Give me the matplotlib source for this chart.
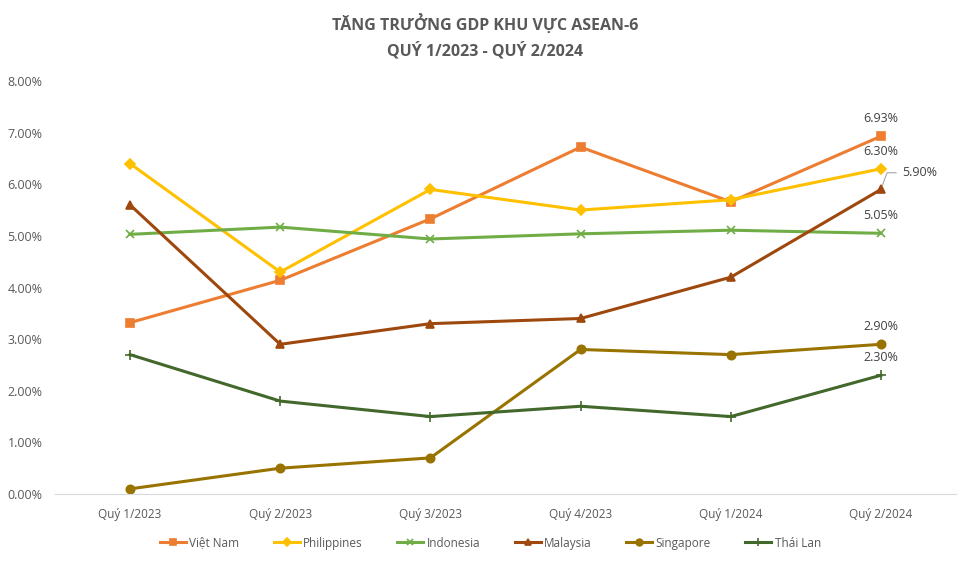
import matplotlib.pyplot as plt
from matplotlib.ticker import PercentFormatter

quarters = ['Quý 1/2023', 'Quý 2/2023', 'Quý 3/2023', 'Quý 4/2023', 'Quý 1/2024', 'Quý 2/2024']

vietnam = [3.32, 4.14, 5.33, 6.72, 5.66, 6.93]
philippines = [6.40, 4.30, 5.90, 5.50, 5.70, 6.30]
indonesia = [5.03, 5.17, 4.94, 5.04, 5.11, 5.05]
malaysia = [5.60, 2.90, 3.30, 3.40, 4.20, 5.90]
singapore = [0.10, 0.50, 0.70, 2.80, 2.70, 2.90]
thailand = [2.70, 1.80, 1.50, 1.70, 1.50, 2.30]

plt.rcParams['font.family'] = ['Open Sans', 'DejaVu Sans']
grey = '#595959'

fig = plt.figure(figsize=(9.71, 5.61), dpi=100)
ax = fig.add_axes([0.0566, 0.1194, 0.928, 0.7362])

x = range(len(quarters))
series = [
    ('Việt Nam', vietnam, '#ED7D31', 's', 6),
    ('Philippines', philippines, '#FFC000', 'D', 5),
    ('Indonesia', indonesia, '#70AD47', 'x', 6),
    ('Malaysia', malaysia, '#9E480E', '^', 6),
    ('Singapore', singapore, '#997300', 'o', 6),
    ('Thái Lan', thailand, '#43682B', '+', 7),
]
for name, vals, col, mk, ms in series:
    ax.plot(x, vals, color=col, lw=2.2, marker=mk, ms=ms, mew=1.2, label=name)

ax.set_xlim(-0.5, len(quarters) - 0.5)
ax.set_ylim(0, 8)
ax.set_yticks(range(0, 9))
ax.yaxis.set_major_formatter(PercentFormatter(decimals=2))
ax.set_xticks(list(x))
ax.set_xticklabels(quarters)
ax.tick_params(length=0, labelsize=8.5, colors=grey)
ax.tick_params(axis='x', pad=10)
ax.tick_params(axis='y', labelsize=9, pad=9)
for s in ['top', 'right', 'left']:
    ax.spines[s].set_visible(False)
ax.spines['bottom'].set_color('#D9D9D9')

last = len(quarters) - 1
lbl = dict(fontsize=9, color='#404040', ha='center', va='bottom')
ax.annotate(f'{vietnam[-1]:.2f}%', (last, vietnam[-1]), xytext=(0, 8), textcoords='offset points', **lbl)
ax.annotate(f'{philippines[-1]:.2f}%', (last, philippines[-1]), xytext=(0, 8), textcoords='offset points', **lbl)
ax.annotate(f'{indonesia[-1]:.2f}%', (last, indonesia[-1]), xytext=(0, 8), textcoords='offset points', **lbl)
ax.annotate(f'{singapore[-1]:.2f}%', (last, singapore[-1]), xytext=(0, 8), textcoords='offset points', **lbl)
ax.annotate(f'{thailand[-1]:.2f}%', (last, thailand[-1]), xytext=(0, 8), textcoords='offset points', **lbl)
ax.annotate(f'{malaysia[-1]:.2f}%', (last, malaysia[-1]), xytext=(15, 12), textcoords='offset points',
            fontsize=9, color='#404040', ha='left', va='center',
            arrowprops=dict(arrowstyle='-', color='#A6A6A6', lw=0.8,
                            connectionstyle='angle,angleA=0,angleB=70,rad=0', shrinkA=2, shrinkB=3))

fig.text(0.5, 0.975, 'TĂNG TRƯỞNG GDP KHU VỰC ASEAN-6\nQUÝ 1/2023 - QUÝ 2/2024',
         ha='center', va='top', fontsize=11.5, fontweight='bold', color=grey, linespacing=1.6)

fig.legend(loc='center', bbox_to_anchor=(0.505, 0.032), ncol=6, frameon=False,
           fontsize=8.5, labelcolor=grey, handlelength=2.2, handletextpad=0.3, columnspacing=2.9,
           markerscale=0.8)

fig.savefig('out.png', dpi=100)
